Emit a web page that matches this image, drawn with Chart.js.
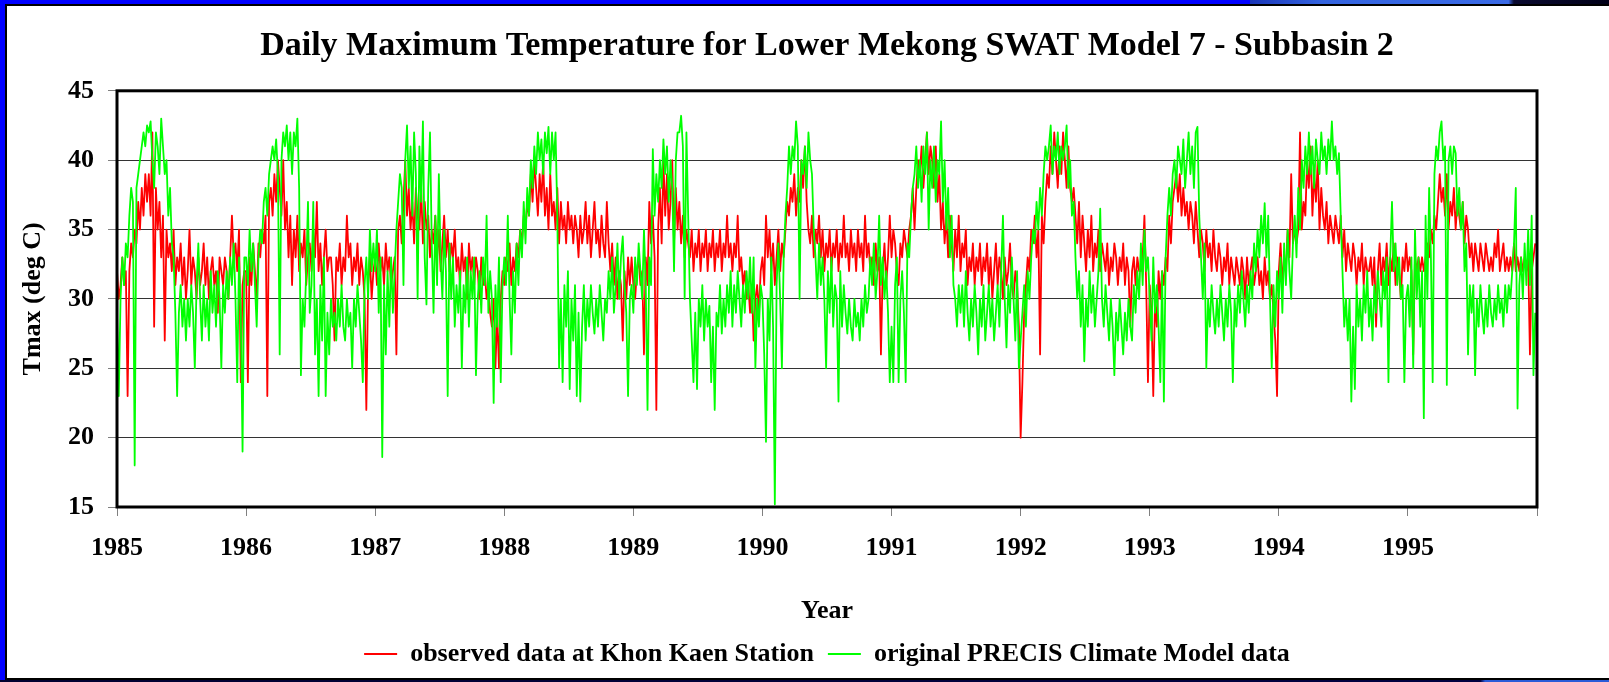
<!DOCTYPE html>
<html>
<head>
<meta charset="utf-8">
<script src="https://cdn.jsdelivr.net/npm/chart.js@4.4.1/dist/chart.umd.min.js"></script>
<style>
  html, body { margin: 0; padding: 0; overflow: hidden; background: #0000ff; }
  #frame { position: relative; width: 1609px; height: 682px; background: #0000ff; }
  #topdeco { position: absolute; left: 1250px; top: 0; width: 359px; height: 5px;
    background: linear-gradient(to right, #1a36b8 0%, #3464e0 20%, #3a6ae6 72%, #0a0a30 73.5%, #000018 100%); }
  #panel { position: absolute; left: 5px; top: 4px; width: 1604px; height: 677px; box-sizing: border-box;
    border-left: 2px solid #000; border-top: 2px solid #000; border-bottom: 3px solid #000; background: #fff; }
  #bottomdeco { position: absolute; left: 0; top: 680px; width: 1609px; height: 2px;
    background: linear-gradient(to right, #000030 0%, #000040 92%, #2a5bd8 92.3%, #2a5bd8 100%); }
  #chart { position: absolute; left: 0; top: 0; }
</style>
</head>
<body>
<div id="frame">
  <div id="topdeco"></div>
  <div id="panel"></div>
  <div id="bottomdeco"></div>
  <canvas id="chart" width="1609" height="682"></canvas>
</div>
<script>
const Chart = window.Chart;

// x axis: one category per year, values read every ~5 days (73 per year)
const years = [1985, 1986, 1987, 1988, 1989, 1990, 1991, 1992, 1993, 1994, 1995];
const yTicks = [15, 20, 25, 30, 35, 40, 45];

// observed data at Khon Kaen Station (deg C)
const obs1985 = [32,30,31,33,31,32,23,32,34,33,35,34, 37,35,38,36,39,37,39,36,42,28,38,35, 37,33,36,27,35,33,34,32,35,31,33,32, 34,31,33,30,32,35,31,33,32,30,33,31, 32,34,31,33,30,32,33,31,32,29,33,32, 31,33,32,30,33,36,33,34,32,35,24,31, 32];
const obs1986 = [32,24,33,31,34,32,30,34,33,35,34,36, 23,37,38,36,39,37,40,38,36,40,35,37, 33,36,31,35,33,36,32,34,33,35,31,33, 34,32,35,33,37,32,34,31,33,35,32,33, 33,31,27,33,32,34,31,33,32,36,33,34, 31,33,32,34,31,33,32,30,22,31,33,30, 32];
const obs1987 = [33,31,34,32,33,31,34,32,33,31,32,33, 26,35,36,34,37,40,36,38,35,37,34,38, 36,35,38,34,37,35,36,33,35,34,36,33, 35,32,34,36,33,35,32,34,33,35,32,33, 31,34,32,33,30,34,32,33,31,33,32,30, 33,31,32,30,31,29,28,30,25,29,25,30, 32];
const obs1988 = [31,33,32,34,31,33,32,34,33,35,34,36, 35,37,36,39,37,40,38,36,39,37,40,36, 38,35,39,36,37,35,38,34,37,35,36,34, 37,35,36,34,36,35,33,36,34,35,37,34, 36,33,35,37,34,35,33,36,34,33,37,34, 32,34,31,33,30,32,31,27,32,30,33,31, 33];
const obs1989 = [31,30,32,33,31,32,26,33,31,37,34,36, 33,22,35,38,34,40,36,39,35,37,40,34, 38,35,37,34,36,33,35,34,33,35,32,34, 33,35,32,34,33,35,32,34,33,35,32,34, 33,35,32,34,33,36,33,34,32,34,33,36, 32,33,31,32,30,31,29,31,27,30,31,29, 32];
const obs1990 = [33,31,36,33,35,32,34,31,33,35,32,34, 33,35,37,36,38,37,39,36,38,37,40,38, 41,37,35,34,36,33,35,34,36,33,35,32, 34,33,35,32,34,33,35,32,34,33,36,33, 34,32,35,33,34,32,35,33,34,32,36,33, 34,32,33,31,34,32,33,26,32,34,31,33, 36];
const obs1991 = [33,35,34,32,31,34,33,35,34,33,35,36, 38,35,38,40,39,41,38,40,42,39,41,40, 38,41,37,39,35,37,34,36,33,36,34,32, 35,33,36,32,34,33,35,31,33,32,34,31, 33,32,34,31,33,32,34,31,33,30,32,34, 31,33,32,30,33,31,32,34,31,30,32,31, 28];
const obs1992 = [20,24,29,31,33,32,35,34,36,33,35,26, 36,34,37,39,38,41,39,42,40,38,41,39, 42,40,38,41,38,37,38,36,34,37,33,36, 34,32,35,33,36,32,34,33,35,32,34,33, 32,34,31,33,32,34,33,31,33,32,34,31, 33,32,28,32,33,31,33,32,32,33,36,31, 24];
const obs1993 = [31,29,23,30,28,32,30,32,31,33,32,36, 34,37,38,39,37,39,36,38,36,37,35,37, 36,34,37,35,33,35,34,32,35,33,34,32, 35,33,32,34,33,31,33,32,34,31,33,32, 31,33,32,31,33,32,30,33,31,32,33,31, 32,33,31,32,30,33,31,32,30,31,29,27, 23];
const obs1994 = [32,34,31,33,32,35,33,39,34,35,34,35, 42,35,37,36,40,38,41,36,39,37,40,35, 38,36,35,37,34,36,35,34,36,35,34,36, 33,35,32,34,33,32,34,33,31,33,32,34, 31,33,32,32,33,31,33,28,32,34,31,33, 32,34,31,33,32,34,31,33,32,30,33,32, 34];
const obs1995 = [32,33,32,26,33,32,33,32,33,32,33,34, 33,35,34,36,35,37,39,37,38,36,39,35, 37,36,38,35,37,36,35,37,34,36,35,33, 34,32,34,33,32,34,33,32,34,33,32,33, 32,34,33,35,32,33,34,32,33,32,33,32, 34,32,33,32,33,32,33,32,33,26,32,33, 34];

// original PRECIS Climate Model data (deg C)
const sim1985 = [29,23,30,33,31,34,33,36,38,37,18,38, 39,40,41,42,41,42.5,42,42.8,40,38,42,41, 39,43,41,39,40,36,38,34,33,29,23,29, 31,28,30,27,30,28,31,29,25,31,34,30, 27,31,28,30,27,32,29,31,28,32,30,25, 31,29,32,30,33,31,34,30,24,33,29,19, 33];
const sim1986 = [33,31,35,32,34,31,28,33,35,34,37,38, 36,39,40,41,40,41.5,39,26,40,42,41,42.5, 40,42,39,42,41,43,38,24.5,30,28,32,37, 29,31,37,26,30,23,31,27,33,23,29,26, 30,28,29,27,30,28,31,28,27,30,28,29, 25,30,28,31,29,27,24,31,33,30,35,32, 34];
const sim1987 = [32,35,29,33,18.6,31,26,32,28,33,29,32, 35,37,39,38,31,40,42.5,38,41,36,42,39, 30,41,37,42.8,33,29.6,38,42,34,29,36,31, 39,33,30,35,32,23,34,30,33,28,31,29, 32,25,31,29,33,28,32,30,33,24.5,30,32, 29,33,31,36,29,32,30,22.5,31,28,33,24, 31];
const sim1988 = [33,31,36,30,26,32,29,34,31,35,33,37, 34,38,36,40,38,41,39,42,40,41.5,39,42, 40.5,42.4,39,42,40,42,36,25,30,24,31,28, 32,23.5,30,27,31,23,29,22.6,28,31,27,30, 28,31,29,27.5,30,28,31,29,27,30,29,32, 30,33,29,31,34,30,33,34.5,31,29,23,30, 31];
const sim1989 = [29,33,31,34,32,30,35,31,22,33,31,40.8, 36,39,37,40,38,41.5,39,41,37,40,38,32, 40,42,42,43.2,41,30,42,36,30,27,24,29, 23.5,30,28,31,27,30,28,29.5,24,28,22,29, 28,31,27.5,30,28,31,29,32,28,31,29,32, 30,28,31,29,32,30,33,29,33,25,30,28, 31];
const sim1990 = [30,26,19.7,30,27,33,28,15.2,31,34,30,25, 33,36,38,41,39,41,40,42.8,41,30,40,39, 41,38,42,40,39,35,33,30,34,31,33,30, 25,32,29,33,28,31,30,22.6,32,28,31,29, 27.5,30,28,27,30,28,29,27,30,28,31,29, 30,33,31,34,30,32,36,31,33,30,32,29, 24];
const sim1991 = [28,24,31,33,24,30,32,29,24,34,33,36, 38,39,41,38,40,37,41,39,42,35,40,38, 41,37,40,39,42.8,37,40,35,38,33,36,31, 30,28,31,29,31,28,32,29,27,30,28,31, 29,26,30,28,31,27,29,31,28,30,27,29, 31,28,32,36,30,26.5,31,29,33,30,27,32, 25];
const sim1992 = [27,29,31,28,32,30,33,35,34,37,35,38, 36,39,41,40,41,42.5,39,41,40,42,39,41, 40,41,42.5,38,40,36,37,33,30,32,28,31, 25.5,30,28,32,29,31,28,30,32,36.5,30,28, 31,29,27,30,28,24.5,29,27,30,28,26,29, 27,30,28,27,31,29,32,30,34,31,35,32, 33];
const sim1993 = [30,27,33,29,31,28,24,32,22.6,33,36,38, 36,39,40,38,41,40,39,41.5,38,40,42,39, 41,38,42,42.4,36,33,30,34,25,30,28,31, 29,27.5,30,28,31,29,27,30,28,31,29,24, 30,28,31,29,32,30,28,31,29,32,30,34, 32,35,33,36,34,36.9,33,36,30,25,31,28, 32];
const sim1994 = [30,33,29,34,31,35,32,30,34,36,33,38, 35,40,38,41,39,42,39,41,38,41.5,40,39, 42,40,41,39,41.5,40,42.8,40,41,39,40.5,36, 32,28,30,27,30,22.6,28,23.5,31,28,30,27, 31,29,32,28,30,27,31,29,32,30,28,32, 30,33,24,33,37,32,34,31,33,30,31,24, 30];
const sim1995 = [31,28,33,25,35,30,33,28,32,21.4,36,30, 38,33,24,39,41,40,42,42.8,40,41,23.8,40, 41,39,41,40.5,36,38,35,37,32,34,26,31, 29,31,24.5,30,28,31,29,27.5,30,28,31,29, 28,30,28.5,31,29,30,28,31,29,31,30,32, 34,38,22.1,31,33,30,34,31,35,31,36,24.5, 29];

const observed = [obs1985, obs1986, obs1987, obs1988, obs1989, obs1990, obs1991, obs1992, obs1993, obs1994, obs1995];
const modelled = [sim1985, sim1986, sim1987, sim1988, sim1989, sim1990, sim1991, sim1992, sim1993, sim1994, sim1995];

function toPoints(series) {
  const pts = [];
  series.forEach((values, k) => {
    values.forEach((v, i) => pts.push({ x: years[k] + i / values.length, y: v }));
  });
  return pts;
}

// black box round the plot area
const plotBorder = {
  id: 'plotBorder',
  afterDatasetsDraw(chart) {
    const { ctx, chartArea: a } = chart;
    ctx.save();
    ctx.strokeStyle = '#000';
    ctx.lineWidth = 3;
    ctx.strokeRect(a.left, a.top, a.right - a.left, a.bottom - a.top);
    ctx.restore();
  }
};

const serif = 'Liberation Serif, Times New Roman, serif';

window.addEventListener('DOMContentLoaded', () => {
  const ctx = document.getElementById('chart').getContext('2d');
  new Chart(ctx, {
    type: 'line',
    data: {
      datasets: [{
        label: 'observed data at Khon Kaen Station',
        data: toPoints(observed),
        borderColor: '#ff0000',
        borderWidth: 1.8,
        order: 1
      }, {
        label: 'original PRECIS Climate Model data',
        data: toPoints(modelled),
        borderColor: '#00ff00',
        borderWidth: 1.8,
        order: 0
      }]
    },
    plugins: [plotBorder],
    options: {
      animation: false,
      responsive: false,
      devicePixelRatio: 1,
      elements: {
        point: { radius: 0 },
        line: { tension: 0, borderJoinStyle: 'round', fill: false }
      },
      layout: { padding: { left: 10, right: 72, top: 7, bottom: 5 } },
      plugins: {
        tooltip: { enabled: false },
        title: {
          display: true,
          fullSize: false,
          text: 'Daily Maximum Temperature for Lower Mekong SWAT Model 7 - Subbasin 2',
          color: '#000',
          font: { family: serif, size: 34, weight: 'bold' },
          padding: { top: 19, bottom: 24 }
        },
        legend: {
          position: 'bottom',
          fullSize: false,
          labels: {
            usePointStyle: true,
            pointStyle: 'line',
            pointStyleWidth: 33,
            padding: 14,
            color: '#000',
            font: { family: serif, size: 26, weight: 'bold' },
            sort: (a, b) => a.datasetIndex - b.datasetIndex
          }
        }
      },
      scales: {
        x: {
          type: 'linear',
          min: years[0],
          max: years[years.length - 1] + 1,
          afterFit: (scale) => { scale.height = 120; },
          border: { display: false },
          grid: { drawOnChartArea: false, tickLength: 9, tickColor: '#808080', lineWidth: 1 },
          ticks: {
            stepSize: 1,
            autoSkip: false,
            maxRotation: 0,
            padding: 17,
            color: '#000',
            font: { family: serif, size: 26, weight: 'bold' },
            callback: (v) => (years.includes(v) ? String(v) : '')
          },
          title: {
            display: true,
            text: 'Year',
            color: '#000',
            font: { family: serif, size: 26, weight: 'bold' },
            padding: { top: 0, bottom: 0 }
          }
        },
        y: {
          min: yTicks[0],
          max: yTicks[yTicks.length - 1],
          afterFit: (scale) => { scale.width = 107; },
          border: { display: false },
          grid: { color: '#333', tickColor: '#808080', tickLength: 9, lineWidth: 1 },
          ticks: {
            stepSize: 5,
            padding: 14,
            color: '#000',
            font: { family: serif, size: 26, weight: 'bold' }
          },
          title: {
            display: true,
            text: 'Tmax (deg C)',
            color: '#000',
            font: { family: serif, size: 26, weight: 'bold' },
            padding: { top: 8, bottom: 0 }
          }
        }
      }
    }
  });
});
</script>
</body>
</html>
